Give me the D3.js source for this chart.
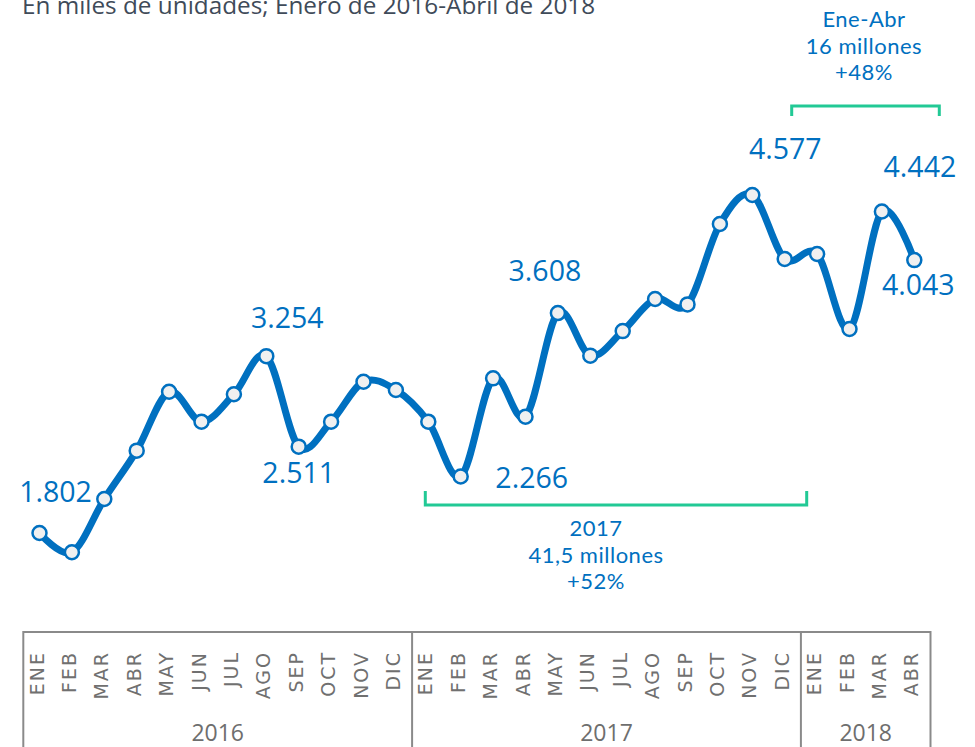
<!DOCTYPE html>
<html>
<head>
<meta charset="utf-8">
<script src="https://cdn.jsdelivr.net/npm/d3@7"></script>
<style>
  html, body { margin: 0; padding: 0; background: #ffffff; }
  svg { display: block; }
</style>
</head>
<body>
<svg id="chart" width="975" height="747"></svg>
<script>
// ---------- DATA ----------
const title = "En miles de unidades; Enero de 2016-Abril de 2018";
const months2016 = ["ENE","FEB","MAR","ABR","MAY","JUN","JUL","AGO","SEP","OCT","NOV","DIC"];
const months2017 = ["ENE","FEB","MAR","ABR","MAY","JUN","JUL","AGO","SEP","OCT","NOV","DIC"];
const months2018 = ["ENE","FEB","MAR","ABR"];
const years = ["2016", "2017", "2018"];
const values2016 = [1802, 1644, 2081, 2478, 2962, 2716, 2941, 3254, 2511, 2716, 3044, 2976];
const values2017 = [2716, 2266, 3072, 2757, 3608, 3258, 3460, 3723, 3679, 4339, 4577, 4052];
const values2018 = [4093, 3477, 4442, 4043];
// indices (0-based over the whole series) that carry a value label
const labelledIdx = [0, 7, 8, 13, 16, 22, 26, 27];
const note2017 = ["2017", "41,5 millones", "+52%"];
const note2018 = ["Ene-Abr", "16 millones", "+48%"];

// ---------- STYLE / LAYOUT (kept separate from data) ----------
const BLUE = "#0070c0";
const GREEN = "#22c995";
const GREY = "#8a8a8a";
const labelOffsets = {
  0: [16, -31], 7: [21, -28], 8: [0, 36], 13: [71, 11],
  16: [-13, -32], 22: [33, -36], 26: [38, -34], 27: [4, 35]
};

const series = [];
[[months2016, values2016, years[0]], [months2017, values2017, years[1]], [months2018, values2018, years[2]]]
  .forEach(([ms, vs, yr]) => ms.forEach((m, i) => series.push({ month: m, value: vs[i], year: yr })));
series.forEach((d, i) => d.i = i);

const svg = d3.select("#chart");
const FONT = "'Open Sans', 'Noto Sans', sans-serif";
const NOTEFONT = "Lato, 'Open Sans', sans-serif";
const AXFONT = "'DejaVu Sans', 'Open Sans', sans-serif";

const x = d3.scaleBand().domain(series.map(d => d.i)).range([23.3, 930.5]).padding(0);
const cx = i => x(i) + x.bandwidth() / 2;
const y = d3.scaleLinear().domain([0, 5000]).range([752.5, 143.5]);

const esLocale = d3.formatLocale({ decimal: ",", thousands: ".", grouping: [3], currency: ["", "€"] });
const fmt = esLocale.format(",d");

// Title (cropped at top in the reference)
svg.append("text")
  .attr("x", 22).attr("y", 14)
  .attr("font-family", FONT).attr("font-size", 24.3)
  .attr("fill", "#3f4b59")
  .text(title);

// Line
const line = d3.line().x(d => cx(d.i)).y(d => y(d.value)).curve(d3.curveCatmullRom.alpha(0));
svg.append("path")
  .datum(series)
  .attr("d", line)
  .attr("fill", "none")
  .attr("stroke", BLUE)
  .attr("stroke-width", 7)
  .attr("stroke-linejoin", "round")
  .attr("stroke-linecap", "round");

// Markers
svg.selectAll("circle.pt")
  .data(series)
  .join("circle")
  .attr("class", "pt")
  .attr("cx", d => cx(d.i))
  .attr("cy", d => y(d.value))
  .attr("r", 7)
  .attr("fill", "#f0f0f0")
  .attr("stroke", BLUE)
  .attr("stroke-width", 2.5);

// Value labels
svg.selectAll("text.val")
  .data(labelledIdx.map(i => series[i]))
  .join("text")
  .attr("class", "val")
  .attr("x", d => cx(d.i) + labelOffsets[d.i][0])
  .attr("y", d => y(d.value) + labelOffsets[d.i][1])
  .attr("text-anchor", "middle")
  .attr("font-family", FONT).attr("font-size", 28.5)
  .attr("fill", BLUE)
  .text(d => fmt(d.value));

// Brackets
const idxFirst2017 = months2016.length;
const idxLast2017 = months2016.length + months2017.length - 1;
const idxLast2018 = series.length - 1;

function bracket(x1, x2, yLine, yTip) {
  svg.append("path")
    .attr("d", `M${x1},${yTip}V${yLine}H${x2}V${yTip}`)
    .attr("fill", "none")
    .attr("stroke", GREEN)
    .attr("stroke-width", 3);
}
bracket(cx(idxFirst2017) - 3, cx(idxLast2017) + 22, 505, 491);
bracket(cx(idxLast2017) + 7, cx(idxLast2018) + 25, 106, 116);

function note(lines, xc, y0, step) {
  svg.append("g").selectAll("text")
    .data(lines)
    .join("text")
    .attr("x", xc)
    .attr("y", (d, i) => y0 + i * step)
    .attr("text-anchor", "middle")
    .attr("font-family", NOTEFONT).attr("font-size", 22)
    .attr("letter-spacing", 0.5)
    .attr("fill", BLUE)
    .text(d => d);
}
note(note2017, 596, 536, 26.6);
note(note2018, 864, 27, 26.5);

// Category axis box
const axisTop = 632;
const axis = svg.append("g");
const x0 = x.range()[0], x1 = x.range()[1];
axis.append("line")
  .attr("x1", x0).attr("x2", x1)
  .attr("y1", axisTop).attr("y2", axisTop)
  .attr("stroke", GREY).attr("stroke-width", 2);

const yearSpans = [
  { year: years[0], from: 0, to: months2016.length },
  { year: years[1], from: months2016.length, to: months2016.length + months2017.length },
  { year: years[2], from: months2016.length + months2017.length, to: series.length }
];
const boundaries = [x0].concat(yearSpans.map(s => x(s.to - 1) + x.bandwidth()));
axis.selectAll("line.sep")
  .data(boundaries)
  .join("line")
  .attr("class", "sep")
  .attr("x1", d => d).attr("x2", d => d)
  .attr("y1", axisTop - 1).attr("y2", 747)
  .attr("stroke", GREY).attr("stroke-width", 2);

axis.selectAll("text.month")
  .data(series)
  .join("text")
  .attr("class", "month")
  .attr("transform", d => `translate(${cx(d.i) + 4},${649 + 2}) rotate(-90)`)
  .attr("text-anchor", "end")
  .attr("font-family", AXFONT).attr("font-size", 19)
  .attr("letter-spacing", 2)
  .attr("fill", "#707070")
  .text(d => d.month);

axis.selectAll("text.year")
  .data(yearSpans)
  .join("text")
  .attr("class", "year")
  .attr("x", d => (x(d.from) + x(d.to - 1) + x.bandwidth()) / 2)
  .attr("y", 741)
  .attr("text-anchor", "middle")
  .attr("font-family", FONT).attr("font-size", 23)
  .attr("fill", "#6e6e6e")
  .text(d => d.year);
</script>
</body>
</html>
